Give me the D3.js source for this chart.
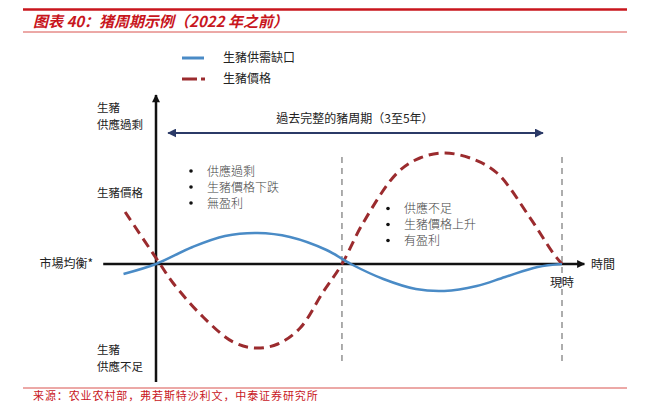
<!DOCTYPE html>
<html><head><meta charset="utf-8">
<script src="https://cdn.jsdelivr.net/npm/d3@7/dist/d3.min.js"></script>
<style>
html,body{margin:0;padding:0;background:#fff;}
svg{display:block;}
text{font-family:"Noto Sans CJK TC","Noto Sans CJK SC",sans-serif;}
</style></head><body>
<svg id="c" width="650" height="408"></svg>
<script>
// ---- data ----
const titleText = "图表 40：猪周期示例（2022 年之前）";
const sourceText = "来源：农业农村部，弗若斯特沙利文，中泰证券研究所";
const seriesNames = ["生豬供需缺口", "生豬價格"];
// time in % of one full cycle (0 = y axis, 100 = "現時"); value in arbitrary units
const supplyGap = [[-8,-1.0],[0,0],[9,1.7],[17,2.8],[25,3.1],[33,2.7],[42,1.4],[48,0],[56,-1.5],[64,-2.5],[71,-2.7],[79,-2.2],[86,-1.3],[94,-0.3],[100,0]];
const hogPrice = [[-7.6,5.2],[1,0],[4.2,-1.9],[11.6,-5.3],[19,-7.8],[24.4,-8.4],[30,-8.0],[35.5,-6.4],[41,-2.9],[45.8,0],[51,4.1],[59.4,9.1],[65,10.6],[71.2,11.1],[78,10.5],[84,9.1],[92,4.7],[97.8,1.1],[100,0]];
const phaseBounds = [45.8, 100];
const yLabels = [{text:"生豬", v:15.6},{text:"供應過剩", v:13.9},{text:"生豬價格", v:7.1},{text:"生豬", v:-8.6},{text:"供應不足", v:-10.3}];
const phase1Notes = ["供應過剩","生豬價格下跌","無盈利"];
const phase2Notes = ["供應不足","生豬價格上升","有盈利"];
const cycleLabel = "過去完整的豬周期（3至5年）";
const eqLabel = "市場均衡*";
const timeLabel = "時間";
const nowLabel = "現時";

// ---- layout ----
const svg = d3.select("#c");
const x = d3.scaleLinear().domain([0,100]).range([156,562]);
const y = d3.scaleLinear().domain([0,10]).range([264,164]);

const defs = svg.append("defs");
function marker(id, color, w, h){
  defs.append("marker").attr("id",id).attr("viewBox","0 0 10 10")
    .attr("refX",9).attr("refY",5).attr("markerUnits","userSpaceOnUse")
    .attr("markerWidth",w).attr("markerHeight",h).attr("orient","auto-start-reverse")
    .append("path").attr("d","M0,0 L10,5 L0,10 Z").attr("fill",color);
}
marker("ak","#111",9,8);
marker("an","#2b3a67",9,9);

// header rules
svg.append("line").attr("x1",23).attr("x2",627).attr("y1",9.5).attr("y2",9.5).attr("stroke","#c8161d").attr("stroke-width",2.5);
svg.append("line").attr("x1",23).attr("x2",627).attr("y1",32).attr("y2",32).attr("stroke","#d9534f").attr("stroke-width",1);
svg.append("text").attr("x",33).attr("y",27).attr("fill","#c8161d").attr("font-size",15).attr("font-weight","bold").attr("font-style","italic")
  .style("font-family","'Noto Sans CJK SC',sans-serif").text(titleText);
// footer
svg.append("line").attr("x1",23).attr("x2",627).attr("y1",388).attr("y2",388).attr("stroke","#d9534f").attr("stroke-width",1);
svg.append("text").attr("x",33).attr("y",400).attr("fill","#c8161d").attr("font-size",11).attr("letter-spacing",0.9)
  .style("font-family","'Noto Sans CJK SC',sans-serif").text(sourceText);

// legend
const lg = svg.append("g");
lg.append("line").attr("x1",182).attr("x2",204).attr("y1",58).attr("y2",58).attr("stroke","#4a8bc6").attr("stroke-width",3);
lg.append("line").attr("x1",182).attr("x2",205).attr("y1",79).attr("y2",79).attr("stroke","#9b2b2e").attr("stroke-width",3).attr("stroke-dasharray","15,4");
lg.selectAll("text").data(seriesNames).join("text").attr("x",223).attr("y",(d,i)=>62+i*21).attr("font-size",12).attr("fill","#222").text(d=>d);

// phase boundaries
svg.selectAll(".pb").data(phaseBounds).join("line").attr("class","pb")
  .attr("x1",d=>x(d)).attr("x2",d=>x(d)).attr("y1",y(10.7)).attr("y2",y(-9.7))
  .attr("stroke","#999").attr("stroke-width",1.6).attr("stroke-dasharray","6,5");

// axes
svg.append("line").attr("x1",x(-13)).attr("x2",x(105.5)).attr("y1",y(0)).attr("y2",y(0)).attr("stroke","#111").attr("stroke-width",2.5).attr("marker-end","url(#ak)");
svg.append("line").attr("x1",x(0)).attr("x2",x(0)).attr("y1",y(-11.8)).attr("y2",y(16.9)).attr("stroke","#111").attr("stroke-width",2.5).attr("marker-end","url(#ak)");

// cycle arrow
svg.append("line").attr("x1",x(3)).attr("x2",x(95.3)).attr("y1",y(13.1)).attr("y2",y(13.1)).attr("stroke","#2b3a67").attr("stroke-width",2)
  .attr("marker-start","url(#an)").attr("marker-end","url(#an)");
svg.append("text").attr("x",x(49)).attr("y",y(14.5)+4).attr("text-anchor","middle").attr("font-size",12).attr("fill","#222").text(cycleLabel);

// curves
const line = d3.line().x(d=>x(d[0])).y(d=>y(d[1])).curve(d3.curveCatmullRom.alpha(0.5));
svg.append("path").datum(hogPrice).attr("d",line).attr("fill","none").attr("stroke","#9b2b2e").attr("stroke-width",3).attr("stroke-dasharray","10,6");
svg.append("path").datum(supplyGap).attr("d",line).attr("fill","none").attr("stroke","#4a8bc6").attr("stroke-width",2.5);

// y labels
svg.selectAll(".yl").data(yLabels).join("text").attr("class","yl")
  .attr("x",97).attr("y",d=>y(d.v)+4).attr("font-size",11.5).attr("fill","#222").text(d=>d.text);
svg.append("text").attr("x",93).attr("y",y(0)+4).attr("text-anchor","end").attr("font-size",12).attr("fill","#222").text(eqLabel);
svg.append("text").attr("x",591).attr("y",y(0)+4.5).attr("font-size",12).attr("fill","#222").text(timeLabel);
svg.append("text").attr("x",x(100)).attr("y",y(-1.9)+4).attr("text-anchor","middle").attr("font-size",12).attr("fill","#222").text(nowLabel);

// notes
function notes(arr, bx, top){
  const g = svg.append("g");
  g.selectAll("circle").data(arr).join("circle").attr("cx",bx).attr("cy",(d,i)=>top+i*16).attr("r",1.8).attr("fill","#111");
  g.selectAll("text").data(arr).join("text").attr("x",bx+16).attr("y",(d,i)=>top+i*16+4.5).attr("font-size",12).attr("fill","#444").attr("font-weight",300).text(d=>d);
}
notes(phase1Notes, 191, 171);
notes(phase2Notes, 388, 208.5);
</script></body></html>
